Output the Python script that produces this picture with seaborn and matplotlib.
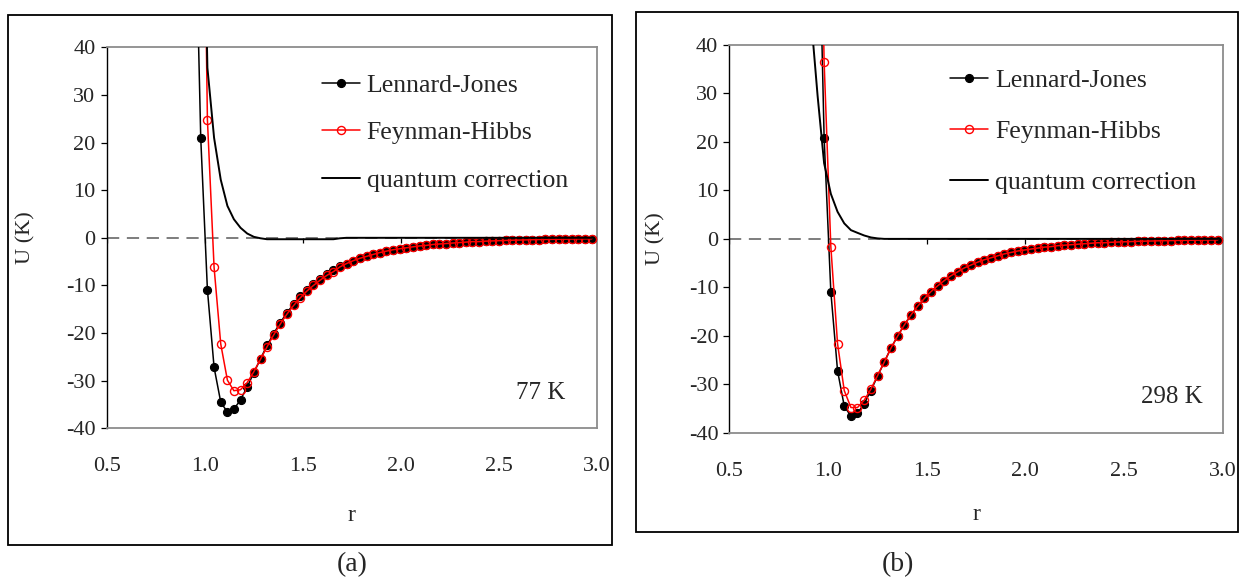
import numpy as np
import matplotlib
matplotlib.use("Agg")
import matplotlib.pyplot as plt
from matplotlib.patches import Rectangle
import seaborn as sns

# reduced distance r (same grid in both panels; first two points lie above the plot)
r_vals = [0.913, 0.947, 0.980, 1.014, 1.048, 1.082, 1.116, 1.149, 1.183, 1.217,
          1.251, 1.285, 1.318, 1.352, 1.386, 1.420, 1.454, 1.488, 1.521, 1.555,
          1.589, 1.623, 1.657, 1.690, 1.724, 1.758, 1.792, 1.826, 1.859, 1.893,
          1.927, 1.961, 1.995, 2.028, 2.062, 2.096, 2.130, 2.164, 2.197, 2.231,
          2.265, 2.299, 2.333, 2.366, 2.400, 2.434, 2.468, 2.502, 2.536, 2.569,
          2.603, 2.637, 2.671, 2.705, 2.738, 2.772, 2.806, 2.840, 2.874, 2.907,
          2.941, 2.975]

lj_vals = [185, 79.6, 20.9, -10.9, -27.2, -34.5, -36.6, -36.0, -34.0, -31.3,
           -28.3, -25.4, -22.6, -20.1, -17.8, -15.7, -13.9, -12.3, -10.9, -9.7,
           -8.6, -7.6, -6.8, -6.0, -5.4, -4.8, -4.3, -3.9, -3.5, -3.1,
           -2.8, -2.5, -2.3, -2.1, -1.9, -1.7, -1.6, -1.4, -1.3, -1.2,
           -1.1, -1.0, -0.9, -0.8, -0.8, -0.7, -0.65, -0.6, -0.55, -0.5,
           -0.47, -0.44, -0.4, -0.37, -0.35, -0.32, -0.3, -0.28, -0.26, -0.24,
           -0.23, -0.21]

# 77 K
fh_77 = [420, 260, 125, 24.8, -6.2, -22.3, -29.9, -32.1, -31.9, -30.4,
         -28.1, -25.5, -22.9, -20.4, -18.1, -16.0, -14.2, -12.6, -11.2, -10.0,
         -8.9, -7.9, -7.1, -6.1, -5.4, -4.8, -4.3, -3.9, -3.5, -3.1,
         -2.8, -2.5, -2.3, -2.1, -1.9, -1.7, -1.6, -1.4, -1.3, -1.2,
         -1.1, -1.0, -0.9, -0.8, -0.8, -0.7, -0.65, -0.6, -0.55, -0.5,
         -0.47, -0.44, -0.4, -0.37, -0.35, -0.32, -0.3, -0.28, -0.26, -0.24,
         -0.23, -0.21]
qc_77 = [235, 180, 104, 35.7, 21.0, 12.2, 6.7, 3.9, 2.1, 0.9,
         0.2, -0.1, -0.3, -0.3, -0.3, -0.3, -0.3, -0.3, -0.3, -0.3,
         -0.3, -0.3, -0.3, -0.1, 0.0, 0.0, 0.0, 0.0, 0.0, 0.0,
         0.0, 0.0, 0.0, 0.0, 0.0, 0.0, 0.0, 0.0, 0.0, 0.0,
         0.0, 0.0, 0.0, 0.0, 0.0, 0.0, 0.0, 0.0, 0.0, 0.0,
         0.0, 0.0, 0.0, 0.0, 0.0, 0.0, 0.0, 0.0, 0.0, 0.0,
         0.0, 0.0]

# 298 K
fh_298 = [300, 109, 36.5, -1.6, -21.6, -31.3, -34.8, -34.8, -33.3, -31.0,
          -28.2, -25.4, -22.6, -20.1, -17.8, -15.7, -13.9, -12.3, -10.9, -9.7,
          -8.6, -7.6, -6.8, -6.0, -5.4, -4.8, -4.3, -3.9, -3.5, -3.1,
          -2.8, -2.5, -2.3, -2.1, -1.9, -1.7, -1.6, -1.4, -1.3, -1.2,
          -1.1, -1.0, -0.9, -0.8, -0.8, -0.7, -0.65, -0.6, -0.55, -0.5,
          -0.47, -0.44, -0.4, -0.37, -0.35, -0.32, -0.3, -0.28, -0.26, -0.24,
          -0.23, -0.21]
qc_298 = [46, 29.5, 15.6, 9.3, 5.6, 3.2, 1.8, 1.25, 0.7, 0.3,
          0.1, 0.0, 0.0, 0.0, 0.0, 0.0, 0.0, 0.0, 0.0, 0.0,
          0.0, 0.0, 0.0, 0.0, 0.0, 0.0, 0.0, 0.0, 0.0, 0.0,
          0.0, 0.0, 0.0, 0.0, 0.0, 0.0, 0.0, 0.0, 0.0, 0.0,
          0.0, 0.0, 0.0, 0.0, 0.0, 0.0, 0.0, 0.0, 0.0, 0.0,
          0.0, 0.0, 0.0, 0.0, 0.0, 0.0, 0.0, 0.0, 0.0, 0.0,
          0.0, 0.0]

x_ticks = [0.5, 1.0, 1.5, 2.0, 2.5, 3.0]
x_tick_labels = ["0.5", "1.0", "1.5", "2.0", "2.5", "3.0"]
y_ticks = [-40, -30, -20, -10, 0, 10, 20, 30, 40]
y_tick_labels = ["-40", "-30", "-20", "-10", "0", "10", "20", "30", "40"]

sns.set_style("white")
plt.rcParams["font.family"] = ["Liberation Serif", "DejaVu Serif"]

fig = plt.figure(figsize=(12.46, 5.81), dpi=100)
ax_a = fig.add_axes([0.0856, 0.2628, 0.3933, 0.6558])
ax_b = fig.add_axes([0.5854, 0.2552, 0.3959, 0.6673])


def draw_panel(ax, fh, qc, temp, temp_xy, leg_xy, leg_space, ylab_x, xlab_y):
    ax.axhline(0, color="#5a5a5a", lw=1.1, ls=(0, (8, 5)), zorder=1)
    ax.vlines(x_ticks, -1.1, 0, color="black", lw=0.9, zorder=1)
    sns.lineplot(x=r_vals, y=lj_vals, ax=ax, sort=False, estimator=None,
                 color="black", lw=1.1, marker="o", markersize=5.8,
                 markeredgecolor="black", markeredgewidth=0.8,
                 label="Lennard-Jones", zorder=3)
    sns.lineplot(x=r_vals, y=fh, ax=ax, sort=False, estimator=None,
                 color="red", lw=1.1, marker="o", markersize=5.8,
                 markerfacecolor="none", markeredgecolor="red",
                 markeredgewidth=1.0, label="Feynman-Hibbs", zorder=4)
    sns.lineplot(x=r_vals, y=qc, ax=ax, sort=False, estimator=None,
                 color="black", lw=1.4, label="quantum correction", zorder=5)

    ax.set_xlim(0.5, 3.0)
    ax.set_ylim(-40, 40)
    ax.set_xticks(x_ticks)
    ax.set_xticklabels(x_tick_labels)
    ax.set_yticks(y_ticks)
    ax.set_yticklabels(y_tick_labels)
    ax.tick_params(axis="y", direction="out", length=4, width=0.9, pad=4,
                   labelsize=16, left=True, color="black")
    ax.tick_params(axis="x", length=0, pad=21, labelsize=16)
    for side in ["top", "right", "bottom"]:
        ax.spines[side].set_color("#8c8c8c")
        ax.spines[side].set_linewidth(1.3)
    ax.spines["left"].set_color("black")
    ax.spines["left"].set_linewidth(1.0)

    ax.set_ylabel("U (K)", fontsize=16)
    ax.set_xlabel("r", fontsize=17)
    ax.yaxis.set_label_coords(ylab_x, 0.5)
    ax.xaxis.set_label_coords(0.5, xlab_y)

    ax.text(temp_xy[0], temp_xy[1], temp, transform=ax.transAxes,
            fontsize=18, ha="center", va="center")
    ax.legend(loc="upper left", bbox_to_anchor=leg_xy, frameon=False,
              fontsize=18.5, handlelength=1.5, handletextpad=0.25,
              labelspacing=leg_space, borderpad=0, borderaxespad=0)


draw_panel(ax_a, fh_77, qc_77, "77 K", (0.886, 0.093), (0.439, 0.93), 0.95, -0.145, -0.2)
draw_panel(ax_b, fh_298, qc_298, "298 K", (0.897, 0.092), (0.447, 0.938), 1.09, -0.13, -0.185)

# outer frames and panel letters
fig.patches.append(Rectangle((0.0064, 0.062), 0.4848, 0.9122, transform=fig.transFigure,
                             fill=False, ec="black", lw=1.3))
fig.patches.append(Rectangle((0.5104, 0.0843), 0.4831, 0.895, transform=fig.transFigure,
                             fill=False, ec="black", lw=1.3))
fig.text(0.2825, 0.0275, "(a)", fontsize=20, ha="center", va="center")
fig.text(0.7207, 0.0275, "(b)", fontsize=20, ha="center", va="center")

fig.savefig("out.png", dpi=100)
